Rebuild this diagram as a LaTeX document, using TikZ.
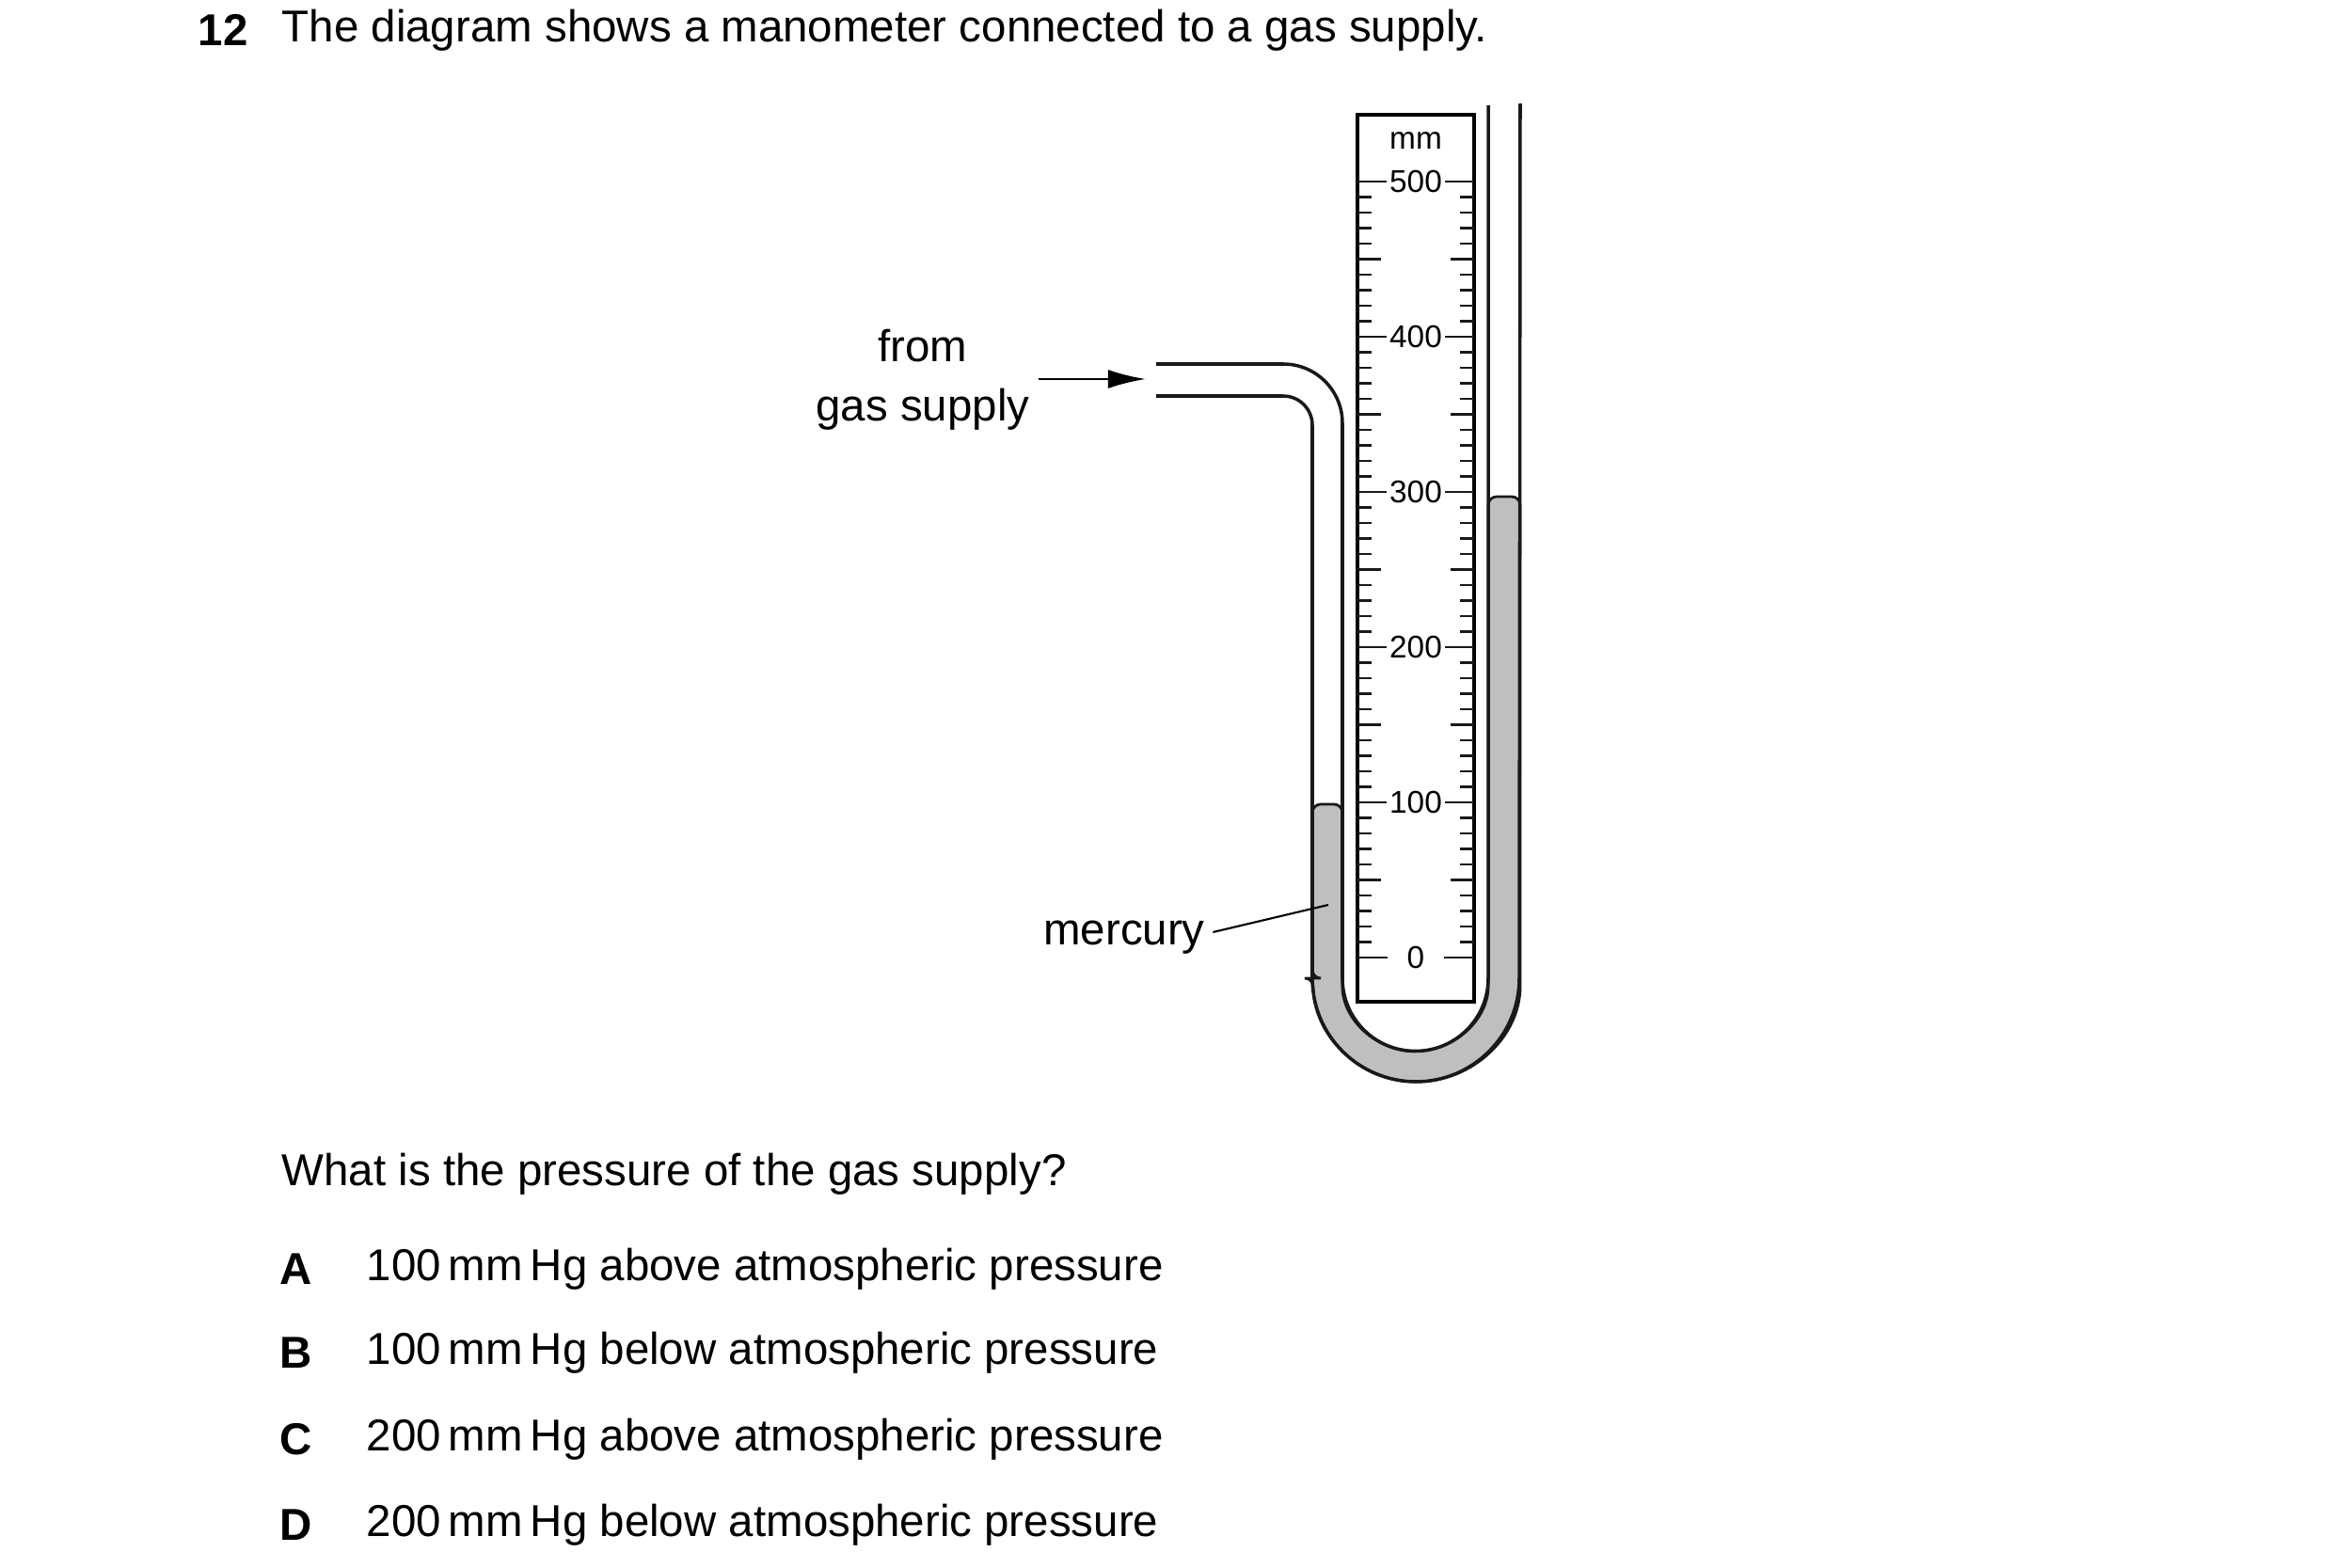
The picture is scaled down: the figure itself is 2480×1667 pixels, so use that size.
\documentclass[tikz,border=0pt]{standalone}
\usepackage{fontspec}
\setmainfont{Liberation Sans}
\usetikzlibrary{arrows.meta}
\definecolor{mercurygrey}{RGB}{190,191,193}
\begin{document}
\begin{tikzpicture}[x=0.01cm,y=-0.01cm]
	\tikzstyle{txt} = [inner sep=0pt, font={\fontsize{13.5}{16}\selectfont}];
	\tikzstyle{num} = [inner sep=1pt, fill=white, font={\fontsize{9.5}{11}\selectfont}];
	\tikzstyle{wall} = [line width=1pt, color=black!90];
	\tikzstyle{tick} = [line width=0.7pt, color=black!90];

	\useasboundingbox (0,0) rectangle (2480,1667);

	% question text
	\node[txt, anchor=west] (qno) at (210,32) {\textbf{12}};
	\node[txt, anchor=west] (title) at (299,32) {The diagram shows a manometer connected to a gas supply.};
	\node[txt, anchor=west] (ask) at (299,1248) {What is the pressure of the gas supply?};
	\foreach \l/\y in {A/1349, B/1438, C/1530, D/1621} {
		\node[txt] (opt\l) at (315,\y) {\textbf{\l}};
	}
	\node[txt, anchor=west] (textA) at (389,1349) {100\,mm\,Hg above atmospheric pressure};
	\node[txt, anchor=west] (textB) at (389,1438) {100\,mm\,Hg below atmospheric pressure};
	\node[txt, anchor=west] (textC) at (389,1530) {200\,mm\,Hg above atmospheric pressure};
	\node[txt, anchor=west] (textD) at (389,1621) {200\,mm\,Hg below atmospheric pressure};

	% mercury
	\filldraw[mercurygrey, draw=black!90, line width=0.8pt, rounded corners=0.9mm]
		(1395,1040) -- (1395,855) -- (1427,855) -- (1427,1040)
		arc[start angle=180, end angle=0, radius=77.5] -- (1582,528) -- (1616,528) -- (1616,1040)
		arc[start angle=0, end angle=180, radius=110] -- cycle;

	% tube
	\coordinate (pipeT) at (1229,387);
	\coordinate (pipeB) at (1229,421);
	\draw[wall] (pipeB) -- (1364,421) arc[start angle=270, end angle=360, radius=31]
		-- (1395,1040) arc[start angle=180, end angle=0, radius=110] -- (1616,110);
	\draw[wall] (pipeT) -- (1364,387) arc[start angle=270, end angle=360, radius=63]
		-- (1427,1040) arc[start angle=180, end angle=0, radius=77.5] -- (1582,112);

	% scale
	\draw[line width=1.2pt, fill=white] (1443,122) rectangle (1567,1065);
	\foreach \m in {0,1,...,50} {
		\pgfmathsetmacro{\yy}{1018-16.5*\m}
		\pgfmathparse{int(mod(\m,10))}
		\ifnum\pgfmathresult=0
			\draw[tick] (1443,\yy) -- (1475,\yy);
			\draw[tick] (1535,\yy) -- (1567,\yy);
		\else
			\pgfmathparse{int(mod(\m,5))}
			\ifnum\pgfmathresult=0
				\draw[tick] (1443,\yy) -- (1468,\yy);
				\draw[tick] (1542,\yy) -- (1567,\yy);
			\else
				\draw[tick] (1443,\yy) -- (1458,\yy);
				\draw[tick] (1552,\yy) -- (1567,\yy);
			\fi
		\fi
	}
	\foreach \v in {0,100,...,500} {
		\pgfmathsetmacro{\yy}{1018-1.65*\v}
		\node[num] (s\v) at (1505,\yy) {\v};
	}
	\node[num] (unit) at (1505,150) {mm};

	% labels
	\node[txt, align=center] (from) at (981,404) {from\\[2pt]gas supply};
	\coordinate (arrowS) at (1104,403);
	\coordinate (arrowE) at (1218,403);
	\draw[line width=0.8pt, -{Latex[length=4mm, width=2mm]}] (arrowS) -- (arrowE);
	\node[txt] (hg) at (1195,997) {mercury};
	\coordinate (hgtip) at (1412,962);
	\draw[line width=0.6pt] (hg.east) ++(8,-6) -- (hgtip);
\end{tikzpicture}
\end{document}
